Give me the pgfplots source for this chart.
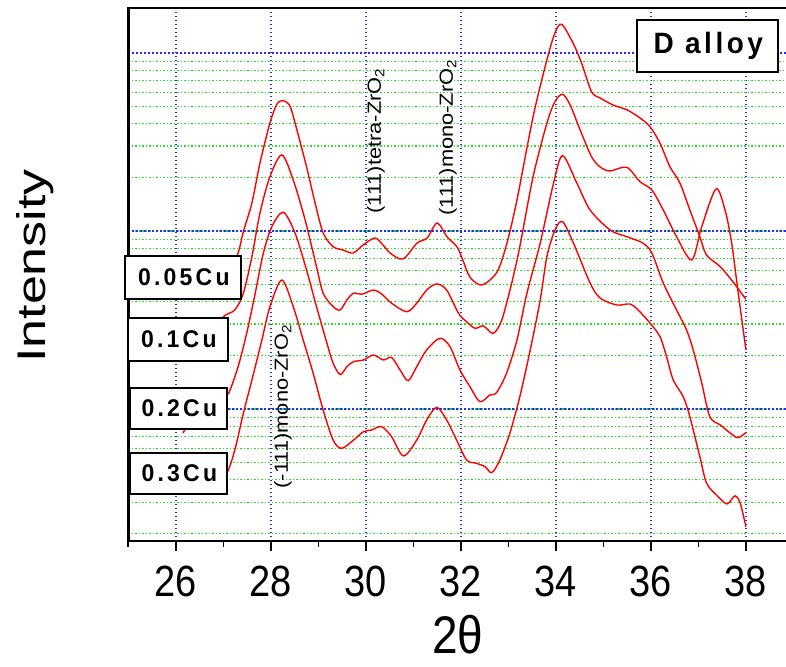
\documentclass[border=0pt]{standalone}
\usepackage{pgfplots}
\pgfplotsset{compat=1.18}
\usepackage{fontspec}
\setmainfont{Liberation Sans}
\newfontfamily\boxfont[LetterSpace=14]{Liberation Sans}
\newfontfamily\titlefont[LetterSpace=12.5]{Liberation Sans}

\definecolor{gridblue}{RGB}{40,40,255}
\definecolor{gridgreen}{RGB}{30,230,30}

\begin{document}
\begin{tikzpicture}[x=1pt,y=1pt]
\path[use as bounding box] (-128.4,-125) rectangle (657.6,541);
\begin{axis}[
    scale only axis,
    width=665pt, height=533pt,
    at={(0,0)}, anchor=south west,
    xmin=25, xmax=39,
    ymode=log, ymin=1.813, ymax=1789,
    axis line style={line width=2.5pt},
    xtick={26,28,...,38},
    minor xtick={25,27,...,39},
    xticklabels={\scalebox{1}[1.15]{26},\scalebox{1}[1.15]{28},\scalebox{1}[1.15]{30},\scalebox{1}[1.15]{32},\scalebox{1}[1.15]{34},\scalebox{1}[1.15]{36},\scalebox{1}[1.15]{38}},
    xticklabel style={font=\fontsize{38}{38}\selectfont, inner sep=0pt, anchor=center, yshift=-30pt},
    xtick pos=left,
    tick align=outside,
    major tick length=10pt, minor tick length=6pt,
    every tick/.style={black, line width=1.8pt},
    ytick style={draw=none},
    yticklabels={},
    xmajorgrids, ymajorgrids, yminorgrids,
    major grid style={gridblue, line width=1.4pt, dash pattern=on 1.3pt off 2.7pt},
    minor grid style={gridgreen, line width=1.1pt, dash pattern=on 1.3pt off 2.2pt},
    xlabel={\scalebox{1}[1.15]{2θ}},
    xlabel style={font=\fontsize{46}{46}\selectfont, at={(axis description cs:0.4956,-0.1764)}, anchor=center, inner sep=0pt},
    ylabel={\scalebox{1.3}[1]{Intensity}},
    ylabel style={font=\fontsize{40}{40}\selectfont, at={(axis description cs:-0.1405,0.516)}, anchor=center, inner sep=0pt},
]
% 0.05Cu
\addplot[red, line width=1.4pt, smooth, tension=0.5] coordinates {
(27.05,49.7) (27.31,75.2) (27.42,99.1) (27.60,143.7) (27.77,241.0) (27.98,404.4)
(28.13,517) (28.26,539.5) (28.40,503.7) (28.51,402.9) (28.75,229.7) (28.93,143.7)
(29.10,97.5) (29.31,81.6) (29.52,78.2) (29.73,75.2) (29.94,83.4) (30.19,91.3)
(30.36,83.4) (30.51,75.2) (30.78,69.6) (31.08,85.6) (31.29,91.3) (31.50,110.9)
(31.71,92.5) (31.92,81.3) (32.04,68.7) (32.19,55.1) (32.44,49.7) (32.76,58.8)
(32.97,85.6) (33.18,149.4) (33.52,438.6) (33.81,913.4) (33.98,1295) (34.12,1449)
(34.36,1138) (34.54,878.6) (34.75,606.2) (34.93,558.7) (35.20,510.4) (35.50,478.4)
(35.77,431.3) (35.98,385.5) (36.19,312.1) (36.40,229.7) (36.61,186.1) (36.82,131.2)
(37.03,92.9) (37.17,73.3) (37.46,63.0) (37.73,51.7) (38.00,41.3)
};
% 0.1Cu
\addplot[red, line width=1.4pt, smooth, tension=0.5] coordinates {
(26.72,26.0) (27.00,33.0) (27.24,36.0) (27.42,44.7) (27.60,71.7) (27.77,126.2)
(27.98,201.9) (28.23,267.3) (28.47,193.4) (28.72,115.3) (28.96,63.0) (29.10,44.7)
(29.31,37.6) (29.46,36.0) (29.60,41.0) (29.74,44.7) (29.91,44.1) (30.16,46.6)
(30.33,44.3) (30.54,39.3) (30.86,35.2) (31.07,39.3) (31.28,46.6) (31.49,50.4)
(31.70,46.6) (31.95,34.5) (32.12,30.9) (32.30,28.4) (32.47,29.3) (32.68,26.6)
(32.86,31.6) (33.07,51.0) (33.24,81.6) (33.52,201.9) (33.81,402.9) (33.98,532.6)
(34.14,586.1) (34.30,510.4) (34.51,369.3) (34.75,261.5) (34.93,228.9) (35.14,217.3)
(35.49,228.0) (35.77,189.2) (36.02,169.9) (36.26,131.2) (36.54,92.9) (36.86,68.7)
(37.07,105.7) (37.37,172.2) (37.56,131.2) (37.70,85.6) (37.83,46.6) (38.00,21.5)
};
% 0.2Cu
\addplot[red, line width=1.4pt, smooth, tension=0.5] coordinates {
(26.15,7.33) (26.23,7.82) (26.65,9.50) (27.07,11.98) (27.14,12.79) (27.31,17.28)
(27.49,26.6) (27.67,44.7) (27.84,74.9) (28.02,105.7) (28.26,127.4) (28.51,97.1)
(28.75,60.4) (28.96,37.6) (29.18,23.4) (29.31,18.06) (29.46,15.62) (29.60,17.28)
(29.74,18.44) (29.95,18.85) (30.16,20.1) (30.37,18.85) (30.54,19.5) (30.72,16.56)
(30.89,14.42) (31.07,17.28) (31.28,21.5) (31.56,24.96) (31.77,22.4) (31.98,16.56)
(32.19,13.35) (32.40,10.99) (32.61,11.98) (32.75,12.35) (32.96,15.87) (33.18,24.4)
(33.39,44.7) (33.67,85.6) (33.95,185.4) (34.14,264.9) (34.44,186.1) (34.72,131.2)
(35.14,101.3) (35.49,92.9) (35.83,85.6) (36.02,75.2) (36.26,51.0) (36.54,36.0)
(36.75,27.8) (36.89,21.5) (37.07,14.0) (37.24,9.05) (37.46,8.13) (37.67,7.33)
(37.83,6.90) (38.00,7.36)
};
% 0.3Cu
\addplot[red, line width=1.4pt, smooth, tension=0.5] coordinates {
(26.82,3.79) (27.07,4.35) (27.24,5.88) (27.42,9.46) (27.60,14.55) (27.81,24.4)
(27.98,37.6) (28.23,53.0) (28.47,37.6) (28.68,24.4) (28.89,15.87) (29.10,9.87)
(29.31,6.69) (29.49,6.01) (29.74,6.69) (29.95,7.46) (30.12,7.62) (30.33,7.96)
(30.54,6.99) (30.79,5.45) (31.07,6.69) (31.28,8.67) (31.49,10.22) (31.70,8.67)
(31.91,6.69) (32.12,5.17) (32.33,4.95) (32.51,4.74) (32.65,4.39) (32.82,5.17)
(33.03,7.30) (33.24,11.72) (33.46,21.5) (33.67,41.0) (33.81,71.7) (33.98,101.3)
(34.14,112.8) (34.37,85.3) (34.72,51.0) (34.93,42.0) (35.28,38.4) (35.56,38.9)
(35.73,36.0) (35.98,30.4) (36.19,25.5) (36.33,19.67) (36.47,14.55) (36.68,11.72)
(36.82,9.05) (37.03,5.40) (37.17,3.84) (37.38,3.29) (37.60,2.93) (37.77,3.25)
(37.88,2.96) (38.00,2.18)
};
\end{axis}

% sample labels
\tikzset{lbl/.style={draw, line width=1.5pt, fill=white, inner sep=0pt, font=\boxfont\bfseries\fontsize{23}{23}\selectfont}}
\node[lbl, minimum width=116pt, minimum height=43pt] at (54.6,263.5) {\hspace{1.6pt}\scalebox{1}[1.05]{0.05Cu}};
\node[lbl, minimum width=100pt, minimum height=43pt] at (49.6,201.5) {\hspace{1.6pt}\scalebox{1}[1.05]{0.1Cu}};
\node[lbl, minimum width=97pt, minimum height=41pt] at (50.1,132.5) {\hspace{1.6pt}\scalebox{1}[1.05]{0.2Cu}};
\node[lbl, minimum width=97pt, minimum height=41pt] at (50.1,67.5) {\hspace{1.6pt}\scalebox{1}[1.05]{0.3Cu}};
\node[draw, line width=1.5pt, fill=white, inner sep=0pt, minimum width=141pt, minimum height=52pt,
      font=\titlefont\bfseries\fontsize{28}{28}\selectfont] at (579.1,495) {\hspace{1.7pt}\scalebox{1}[1.05]{D alloy}};

% peak annotations
\tikzset{ann/.style={rotate=90, inner sep=0pt, font=\fontsize{19}{19}\selectfont}}
\node[ann] at (247.6,400) {\scalebox{1.15}[1]{(111)tetra-ZrO\textsubscript{2}}};
\node[ann] at (319.6,403.5) {\scalebox{1.15}[1]{(111)mono-ZrO\textsubscript{2}}};
\node[ann] at (154.6,134.5) {\scalebox{1.15}[1]{(-111)mono-ZrO\textsubscript{2}}};
\end{tikzpicture}
\end{document}
